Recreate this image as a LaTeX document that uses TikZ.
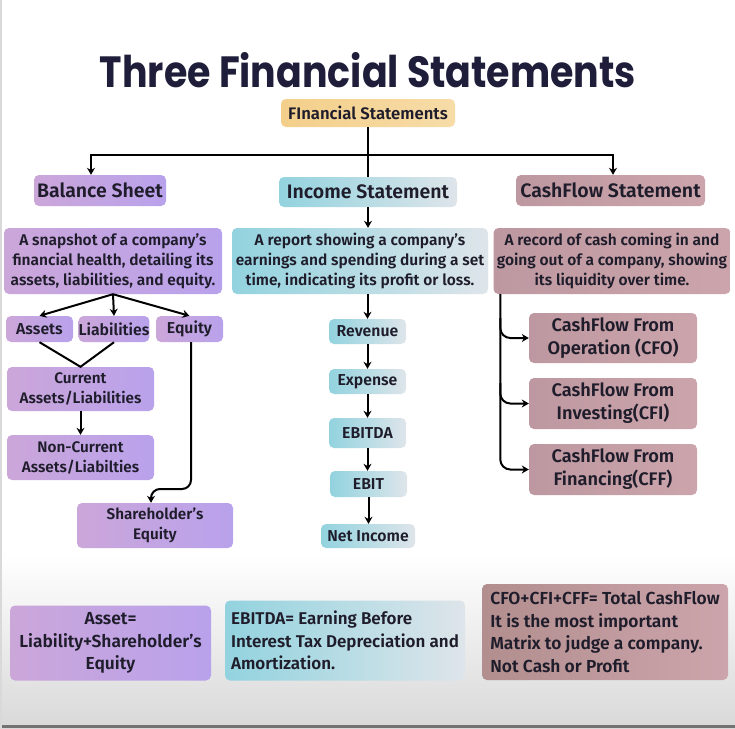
\documentclass[tikz,border=0pt]{standalone}
\usepackage{fontspec}
\setmainfont{Fira Sans}[UprightFont={* SemiBold}, BoldFont={* Bold}]
\newfontfamily\titlefont{Poppins}
\usetikzlibrary{arrows.meta}
\definecolor{txt}{HTML}{1F1D2B}
\definecolor{ttl}{HTML}{1E1E3A}
\definecolor{purL}{HTML}{CBA6D9}
\definecolor{purR}{HTML}{B9A2EC}
\definecolor{cynL}{HTML}{92D3DF}
\definecolor{cynR}{HTML}{DEE5EA}
\definecolor{mauL}{HTML}{BE98A0}
\definecolor{mauR}{HTML}{CCA5AC}
\definecolor{brnL}{HTML}{B28E8E}
\definecolor{goldL}{HTML}{F3CF8A}
\definecolor{goldR}{HTML}{F7DCA8}
\tikzset{
  box/.style={rounded corners=5pt, inner sep=0pt, align=center, text=txt},
  pur/.style={box, left color=purL, right color=purR},
  cyn/.style={box, left color=cynL, right color=cynR},
  mau/.style={box, left color=mauL, right color=mauR},
  gold/.style={box, left color=goldL, right color=goldR},
  head/.style={font=\fontsize{19.5}{22}\selectfont},
  desc/.style={font=\fontsize{15.5}{20}\selectfont},
  small/.style={font=\fontsize{15.8}{17}\selectfont},
  two/.style={font=\fontsize{15.3}{20}\selectfont},
  cfbox/.style={font=\fontsize{18.2}{23}\selectfont},
  note/.style={font=\fontsize{17.4}{22.5}\selectfont},
  arr/.style={-{Stealth[length=7pt,width=8pt]}, line width=2pt, draw=black},
  ln/.style={line width=2pt, draw=black},
}
\begin{document}
\begin{tikzpicture}[x=1pt,y=-1pt]
\useasboundingbox (0,0) rectangle (735,728);
\fill[white] (0,0) rectangle (735,728);
\shade[top color=white,bottom color=black!15] (0,555) rectangle (735,728);
\fill[black!55] (0,725) rectangle (735,728);
\fill[black!15] (0,0) rectangle (2,728);

% title
\node[text=ttl, inner sep=0pt, anchor=base] (title) at (368,87)
  {\resizebox{536pt}{35pt}{\titlefont\bfseries Three Financial Statements}};

% top level
\node[gold, minimum width=174pt, minimum height=28pt, font=\fontsize{16.7}{18}\selectfont] (fs) at (368,113) {FInancial Statements};
\node[pur, head, minimum width=132pt, minimum height=31pt] (bs) at (100,190.5) {Balance Sheet};
\node[cyn, head, minimum width=178pt, minimum height=30pt] (is) at (368,192) {Income Statement};
\node[mau, head, minimum width=189pt, minimum height=31pt] (cs) at (610.5,190.5) {CashFlow Statement};

% descriptions
\node[pur, desc, minimum width=218pt, minimum height=66pt] (ld) at (113,261)
  {A snapshot of a company's\\financial health, detailing its\\assets, liabilities, and equity.};
\node[cyn, desc, minimum width=256pt, minimum height=66pt] (md) at (360,261)
  {A report showing a company's\\earnings and spending during a set\\time, indicating its profit or loss.};
\node[mau, desc, minimum width=237pt, minimum height=66pt] (rd) at (612,261)
  {A record of cash coming in and\\going out of a company, showing\\its liquidity over time.};

% balance sheet branch
\node[pur, small, minimum width=67pt, minimum height=26pt] (assets) at (39.5,329) {Assets};
\node[pur, small, minimum width=70pt, minimum height=26pt] (liab) at (114,329) {Liabilities};
\node[pur, small, minimum width=67pt, minimum height=26pt] (equity) at (189.5,329) {Equity};
\node[pur, two, minimum width=147pt, minimum height=44pt] (cur) at (80.5,389) {Current\\Assets/Liabilities};
\node[pur, two, minimum width=147pt, minimum height=45pt] (noncur) at (80.5,457.5) {Non-Current\\Assets/Liabilties};
\node[pur, two, minimum width=156pt, minimum height=45pt] (she) at (155,525.5) {Shareholder’s\\Equity};

% income branch
\node[cyn, small, minimum width=77pt, minimum height=25pt] (rev) at (367.5,331.5) {Revenue};
\node[cyn, small, minimum width=77pt, minimum height=25pt] (exp) at (367.5,381.5) {Expense};
\node[cyn, small, minimum width=77pt, minimum height=30pt] (ebitda) at (367.5,433) {EBITDA};
\node[cyn, small, minimum width=77pt, minimum height=26pt] (ebit) at (368.5,484) {EBIT};
\node[cyn, small, minimum width=94pt, minimum height=24pt] (ni) at (368,536) {Net Income};

% cashflow branch
\node[mau, cfbox, minimum width=168pt, minimum height=50pt] (cfo) at (613,338) {CashFlow From\\Operation (CFO)};
\node[mau, cfbox, minimum width=168pt, minimum height=51pt] (cfi) at (613,403.5) {CashFlow From\\Investing(CFI)};
\node[mau, cfbox, minimum width=168pt, minimum height=51pt] (cff) at (613,469.5) {CashFlow From\\Financing(CFF)};

% bottom notes
\node[pur, note, minimum width=201pt, minimum height=75pt] (bA) at (110.5,643) {Asset=\\Liability+Shareholder’s\\Equity};
\node[cyn, minimum width=240pt, minimum height=80pt, align=left, font=\fontsize{17}{22.5}\selectfont] (bE) at (345,640.5) {EBITDA= Earning Before\\Interest Tax Depreciation and\\Amortization.};
\node[box, note, left color=brnL, right color=mauR, minimum width=246pt, minimum height=96pt, align=left] (bC) at (605,632) {CFO+CFI+CFF= Total CashFlow\\It is the most important\\Matrix to judge a company.\\Not Cash or Profit};

% connectors: top
\coordinate (j) at (fs.south |- 0,155);
\draw[ln] (fs.south) -- (is.north);
\draw[arr] (j) -| ([xshift=-9pt]bs.north);
\draw[arr] (j) -| ([xshift=2.5pt]cs.north);
\draw[arr] (is.south) -- (is.south |- md.north);

% balance sheet connectors
\draw[arr] (ld.south) -- (assets.north);
\draw[arr] (ld.south) -- (liab.north);
\draw[arr] (ld.south) -- (equity.north);
\draw[ln] (assets.south) -- (cur.north) -- (liab.south);
\draw[arr] (cur.south) -- (noncur.north);
\coordinate (eqturn) at ([xshift=1.5pt]equity.south |- 0,489);
\draw[arr, rounded corners=9pt] ([xshift=1.5pt]equity.south) -- (eqturn) -| ([xshift=-4pt]she.north);

% income chain
\draw[arr] (rev.north |- md.south) -- (rev.north);
\draw[arr] (rev) -- (exp);
\draw[arr] (exp.south) -- (exp.south |- ebitda.north);
\draw[arr] (ebitda.south) -- (ebitda.south |- ebit.north);
\draw[arr] (ebit.south) -- (ebit.south |- ni.north);

% cashflow connectors
\coordinate (rv) at ([xshift=7pt]rd.south west);
\draw[arr, rounded corners=10pt] (rv) |- (cff.west);
\draw[arr, rounded corners=10pt] (rv |- 0,318) |- (cfo.west);
\draw[arr, rounded corners=10pt] (rv |- 0,383) |- (cfi.west);
\end{tikzpicture}
\end{document}
